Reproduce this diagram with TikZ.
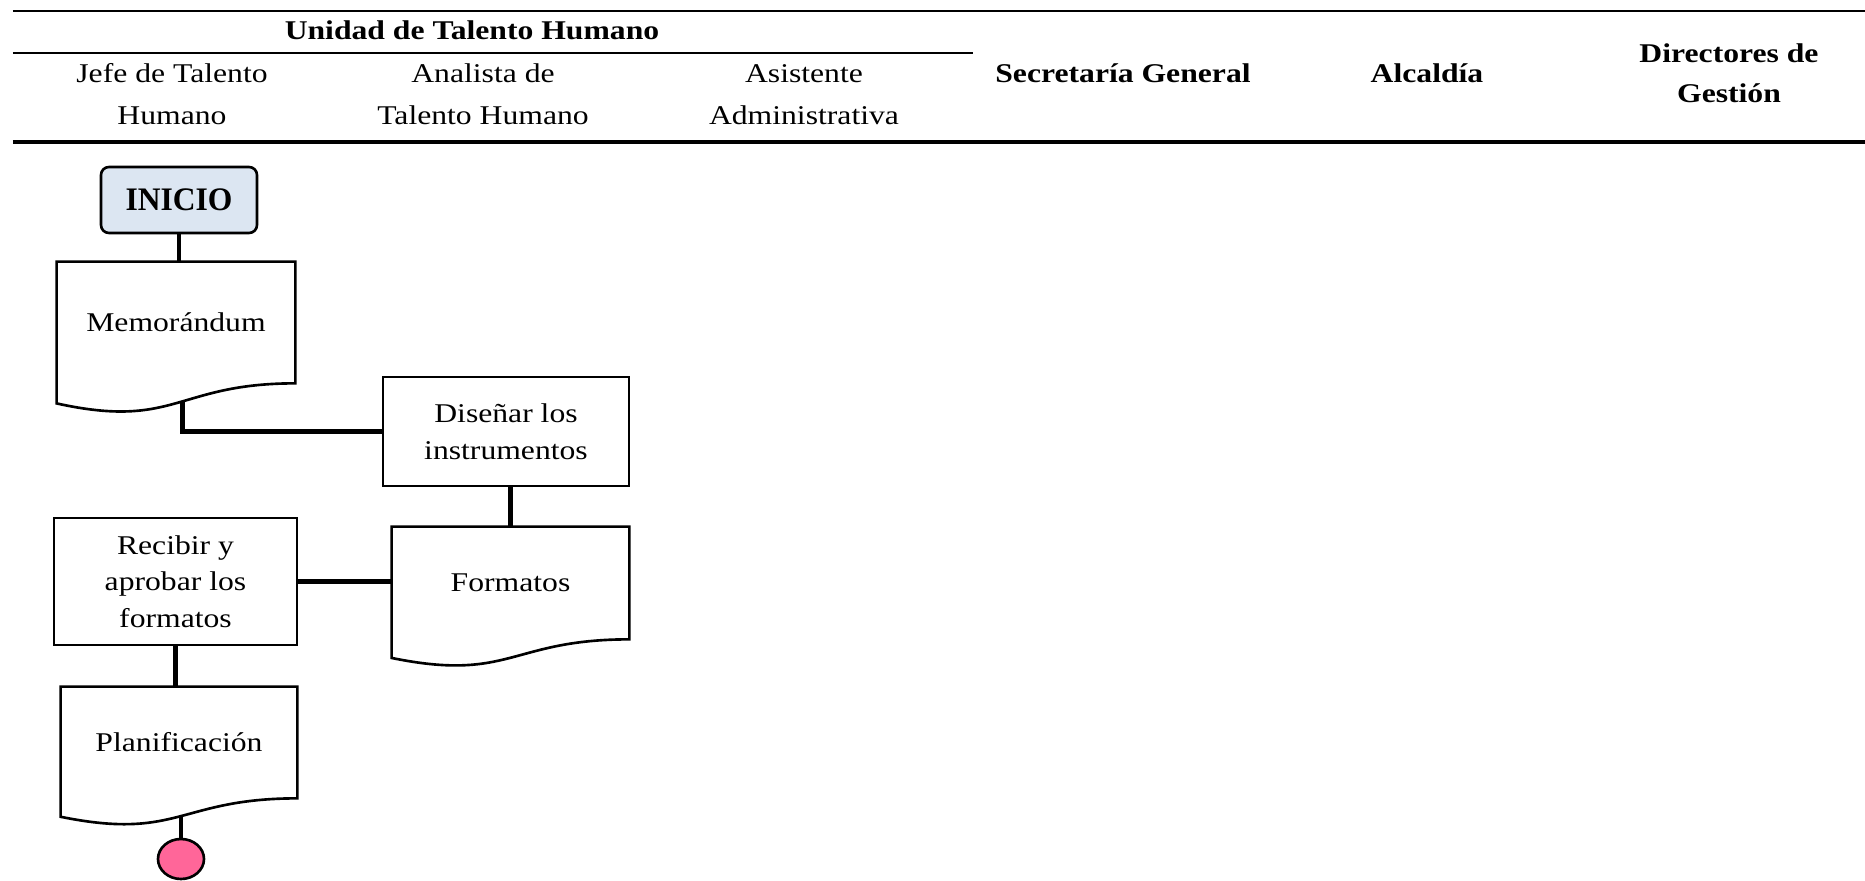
\documentclass[tikz,border=0pt]{standalone}
\usepackage{fontspec}
\setmainfont{Liberation Serif}[FakeStretch=1.17]
\newfontfamily\startfont{Liberation Serif}[FakeStretch=0.96]
\usetikzlibrary{calc}
\usetikzlibrary{shapes.geometric}

\definecolor{startblue}{HTML}{DCE6F2}
\definecolor{endpink}{HTML}{FF6699}

% document symbol drawn round the text node #1, wavy bottom edge
\newcommand{\docoutline}[1]{%
  \draw[shapeline] (#1.north west) -- (#1.north east) -- (#1.south east)
    .. controls (#1.south) and ($(#1.south)!-0.381!(#1.north)$)
    .. ($(#1.south west)!-0.165!(#1.north west)$) -- cycle;
  \coordinate (#1-wave) at ($(#1.south)!-0.15!(#1.north)$);
}

\begin{document}
\begin{tikzpicture}[
    shapeline/.style={line width=1.5pt},
    link/.style={line width=2.3pt},
    headtxt/.style={font=\fontsize{15.4}{23.9}\selectfont, align=center, inner sep=0pt},
    headbold/.style={headtxt, font=\fontsize{15.4}{23.3}\selectfont\bfseries},
    txt/.style={font=\fontsize{15.4}{20.8}\selectfont, align=center, inner sep=0pt},
    procbox/.style={txt, draw, shapeline},
    docbox/.style={txt},
  ]
      \useasboundingbox (0,0) rectangle (37.3,-17.62);

      % table header (base anchor = baseline of the last line)
      \draw [line width=1.25pt] (0.26,-0.22) -- (37.3,-0.22);
      \draw [line width=1.25pt] (0.26,-1.06) -- (19.46,-1.06);
      \draw [line width=2pt] (0.26,-2.84) -- (37.3,-2.84);

      \node [headbold, anchor=base] (uth) at (9.44,-0.80) {Unidad de Talento Humano};
      \node [headtxt, anchor=base] (jefe) at (3.44,-2.50) {Jefe de Talento\\Humano};
      \node [headtxt, anchor=base] (analista) at (9.66,-2.50) {Analista de\\Talento Humano};
      \node [headtxt, anchor=base] (asist) at (16.08,-2.50) {Asistente\\Administrativa};
      \node [headbold, anchor=base] (secre) at (22.46,-1.66) {Secretaría General};
      \node [headbold, anchor=base] (alcal) at (28.54,-1.66) {Alcaldía};
      \node [headbold, anchor=base] (direc) at (34.58,-2.06) {Directores de\\Gestión};

      % flow
      \node [draw, shapeline, fill=startblue, rounded corners=0.16cm,
             minimum width=3.12cm, minimum height=1.32cm, inner sep=0pt,
             font=\startfont\bfseries\fontsize{18.7}{22}\selectfont] (start) at (3.58,-4.00) {INICIO};

      \node [docbox, minimum width=4.76cm, minimum height=2.42cm] (memo) at (3.52,-6.45) {Memorándum};
      \docoutline{memo}

      \node [procbox, minimum width=4.92cm, minimum height=2.18cm] (design) at (10.12,-8.63) {Diseñar los\\instrumentos};

      \node [docbox, minimum width=4.74cm, minimum height=2.24cm] (forms) at (10.21,-11.66) {Formatos};
      \docoutline{forms}

      \node [procbox, minimum width=4.86cm, minimum height=2.54cm] (approve) at (3.51,-11.63) {Recibir y\\aprobar los\\formatos};

      \node [docbox, minimum width=4.72cm, minimum height=2.22cm] (plan) at (3.58,-14.85) {Planificación};
      \docoutline{plan}

      \node [draw, shapeline, fill=endpink, ellipse, inner sep=0pt,
             minimum width=0.92cm, minimum height=0.80cm] (end) at (3.62,-17.18) {};

      \draw [link] (start.south) -- (start.south |- memo.north);
      \draw [link] ([xshift=0.13cm]memo-wave) |- (design.west);
      \draw [link] (forms.north |- design.south) -- (forms.north);
      \draw [link] (approve.east) -- (approve.east -| forms.west);
      \draw [link] (approve.south) -- (approve.south |- plan.north);
      \draw [link] (plan-wave -| end.north) -- (end.north);
\end{tikzpicture}
\end{document}
